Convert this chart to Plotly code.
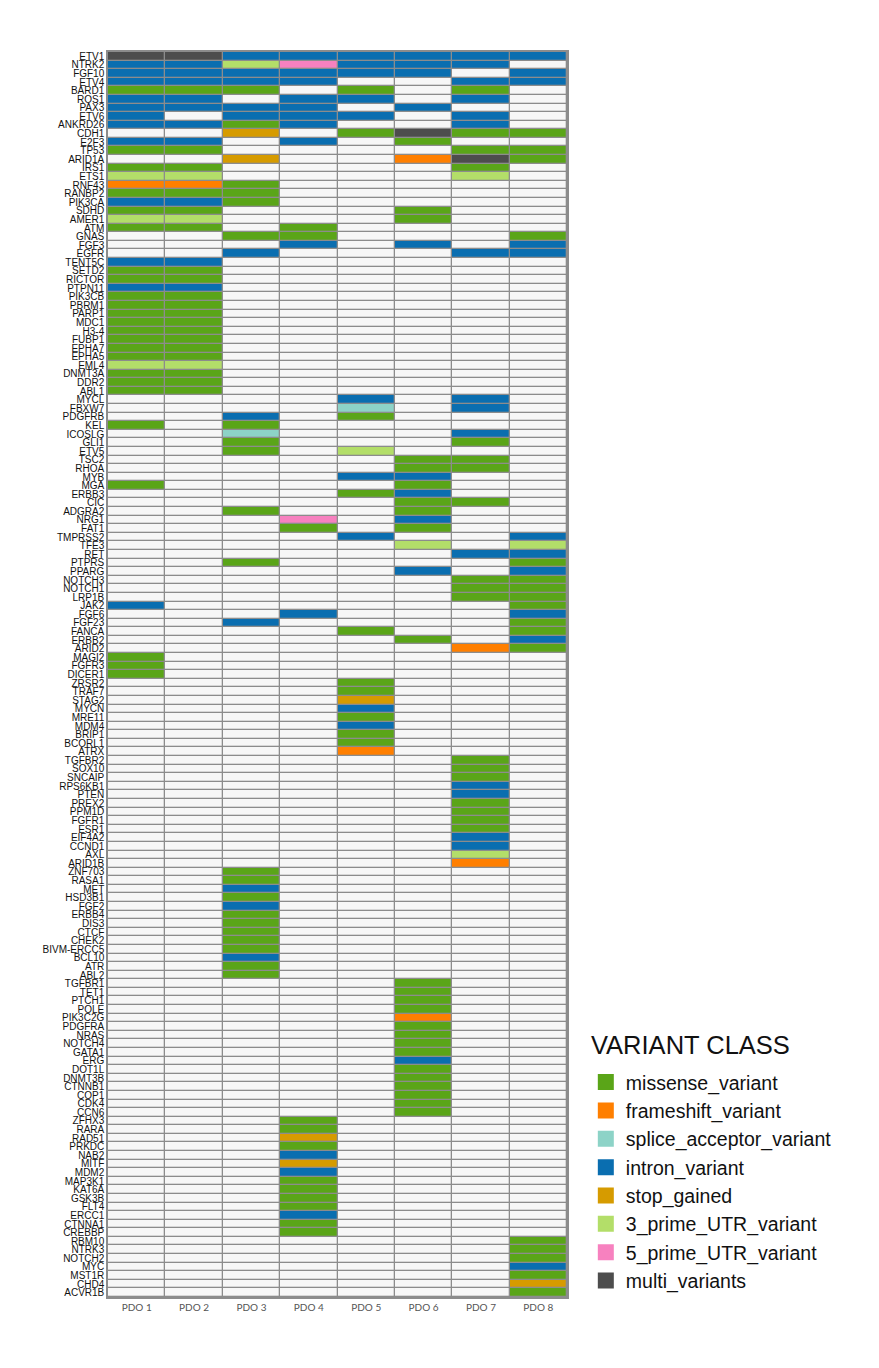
import plotly.graph_objects as go

samples = ["PDO 1", "PDO 2", "PDO 3", "PDO 4", "PDO 5", "PDO 6", "PDO 7", "PDO 8"]

classes = ["missense_variant", "frameshift_variant", "splice_acceptor_variant",
           "intron_variant", "stop_gained", "3_prime_UTR_variant",
           "5_prime_UTR_variant", "multi_variants"]
class_codes = "mfsigtpx"
class_colors = ["#5AA518", "#FF7F00", "#8DD3C7", "#0A6EB0",
                "#D69B00", "#B3DE69", "#F781BF", "#4D4D4D"]
empty_color = "#F7F7F7"
legend_title = "VARIANT CLASS"

genes = [
    "ETV1", "NTRK2", "FGF10", "ETV4", "BARD1", "ROS1", "PAX3", "ETV6", "ANKRD26", "CDH1",
    "E2F3", "TP53", "ARID1A", "IRS1", "ETS1", "RNF43", "RANBP2", "PIK3CA", "SDHD", "AMER1",
    "ATM", "GNAS", "FGF3", "EGFR", "TENT5C", "SETD2", "RICTOR", "PTPN11", "PIK3CB", "PBRM1",
    "PARP1", "MDC1", "H3-4", "FUBP1", "EPHA7", "EPHA5", "EML4", "DNMT3A", "DDR2", "ABL1",
    "MYCL", "FBXW7", "PDGFRB", "KEL", "ICOSLG", "GLI1", "ETV5", "TSC2", "RHOA", "MYB",
    "MGA", "ERBB3", "CIC", "ADGRA2", "NRG1", "FAT1", "TMPRSS2", "TFE3", "RET", "PTPRS",
    "PPARG", "NOTCH3", "NOTCH1", "LRP1B", "JAK2", "FGF6", "FGF23", "FANCA", "ERBB2", "ARID2",
    "MAGI2", "FGFR3", "DICER1", "ZRSR2", "TRAF7", "STAG2", "MYCN", "MRE11", "MDM4", "BRIP1",
    "BCORL1", "ATRX", "TGFBR2", "SOX10", "SNCAIP", "RPS6KB1", "PTEN", "PREX2", "PPM1D", "FGFR1",
    "ESR1", "EIF4A2", "CCND1", "AXL", "ARID1B", "ZNF703", "RASA1", "MET", "HSD3B1", "FGF2",
    "ERBB4", "DIS3", "CTCF", "CHEK2", "BIVM-ERCC5", "BCL10", "ATR", "ABL2", "TGFBR1", "TET1",
    "PTCH1", "POLE", "PIK3C2G", "PDGFRA", "NRAS", "NOTCH4", "GATA1", "ERG", "DOT1L", "DNMT3B",
    "CTNNB1", "COP1", "CDK4", "CCN6", "ZFHX3", "RARA", "RAD51", "PRKDC", "NAB2", "MITF",
    "MDM2", "MAP3K1", "KAT6A", "GSK3B", "FLT4", "ERCC1", "CTNNA1", "CREBBP", "RBM10", "NTRK3",
    "NOTCH2", "MYC", "MST1R", "CHD4", "ACVR1B",
]

# one string per gene, one character per PDO (code letters from class_codes, "." = none)
calls = [
    "xxiiiiii", "iitpiii.", "iiiiii.i", "iiii..ii", "mmm.m.m.", "ii.ii.i.", "iiii.i..", "i.iii.i.", "iimi..i.", "..g.mxmm",
    "ii.i.m..", "mm....mm", "..g..fxm", "mm....m.", "tt....t.", "ffm.....", "mmm.....", "iim.....", "mm...m..", "tt...m..",
    "mm.m....", "..mm...m", "...i.i.i", "..i...ii", "ii......", "mm......", "mm......", "ii......", "mm......", "mm......",
    "mm......", "mm......", "mm......", "mm......", "mm......", "mm......", "tt......", "mm......", "mm......", "mm......",
    "....i.i.", "....s.i.", "..i.m...", "m.m.....", "..s...i.", "..m...m.", "..m.t...", ".....mm.", ".....mm.", "....ii..",
    "m....m..", "....mi..", ".....mm.", "..m..m..", "...p.i..", "...m.m..", "....i..i", ".....t.t", "......ii", "..m....m",
    ".....i.i", "......mm", "......mm", "......mm", "i......m", "...i...i", "..i....m", "....m..m", ".....m.i", "......fm",
    "m.......", "m.......", "m.......", "....m...", "....m...", "....g...", "....i...", "....m...", "....i...", "....m...",
    "....m...", "....f...", "......m.", "......m.", "......m.", "......i.", "......i.", "......m.", "......m.", "......m.",
    "......m.", "......i.", "......i.", "......t.", "......f.", "..m.....", "..m.....", "..i.....", "..m.....", "..i.....",
    "..m.....", "..m.....", "..m.....", "..m.....", "..m.....", "..i.....", "..m.....", "..m.....", ".....m..", ".....m..",
    ".....m..", ".....m..", ".....f..", ".....m..", ".....m..", ".....m..", ".....m..", ".....i..", ".....m..", ".....m..",
    ".....m..", ".....m..", ".....m..", ".....m..", "...m....", "...m....", "...g....", "...m....", "...i....", "...g....",
    "...i....", "...m....", "...m....", "...m....", "...m....", "...i....", "...m....", "...m....", ".......m", ".......m",
    ".......m", ".......i", ".......m", ".......g", ".......m",
]

n_cls = len(classes)
z = [[class_codes.index(c) if c != "." else n_cls for c in row] for row in calls]

all_colors = class_colors + [empty_color]
k = len(all_colors)
colorscale = []
for i, col in enumerate(all_colors):
    colorscale.append([i / k, col])
    colorscale.append([(i + 1) / k, col])

grid_color = "#8C8C8C"

fig = go.Figure()
fig.add_trace(go.Heatmap(
    z=z, x=samples, y=genes,
    zmin=-0.5, zmax=k - 0.5,
    colorscale=colorscale, showscale=False,
    xgap=1.3, ygap=1.3, hoverinfo="skip",
))

for cls, col in zip(classes, class_colors):
    fig.add_trace(go.Scatter(
        x=[None], y=[None], mode="markers", name=cls, legendgroup=cls,
        marker=dict(symbol="square", size=18, color=col),
        hoverinfo="skip",
    ))

fig.add_annotation(
    text=legend_title, xref="paper", yref="paper",
    x=1.048, y=0.2024, xanchor="left", yanchor="middle",
    showarrow=False, font=dict(size=25.5, color="#111"),
)

fig.update_layout(
    width=871, height=1360,
    margin=dict(l=100, r=312, t=44, b=71),
    plot_bgcolor=grid_color,
    paper_bgcolor="white",
    font=dict(family="Liberation Sans, Arial, sans-serif", color="#111"),
    legend=dict(
        font=dict(size=19.5, color="#111"),
        x=1.041, xanchor="left", y=0.188, yanchor="top",
        tracegroupgap=0, itemsizing="trace",
        bgcolor="rgba(0,0,0,0)",
    ),
    showlegend=True,
)
fig.update_xaxes(
    type="category", categoryorder="array", categoryarray=samples,
    showgrid=False, zeroline=False, ticks="",
    tickfont=dict(size=10, color="#555", family="Lato, Liberation Sans, sans-serif"),
    showline=True, linecolor=grid_color, linewidth=1.5, mirror=True,
)
fig.update_yaxes(
    type="category", categoryorder="array", categoryarray=genes,
    tickmode="array", tickvals=genes, ticktext=genes,
    autorange="reversed", showgrid=False, zeroline=False, ticks="",
    tickfont=dict(size=10, color="#111"),
    showline=True, linecolor=grid_color, linewidth=1.5, mirror=True,
)

fig.write_html("out.html")
